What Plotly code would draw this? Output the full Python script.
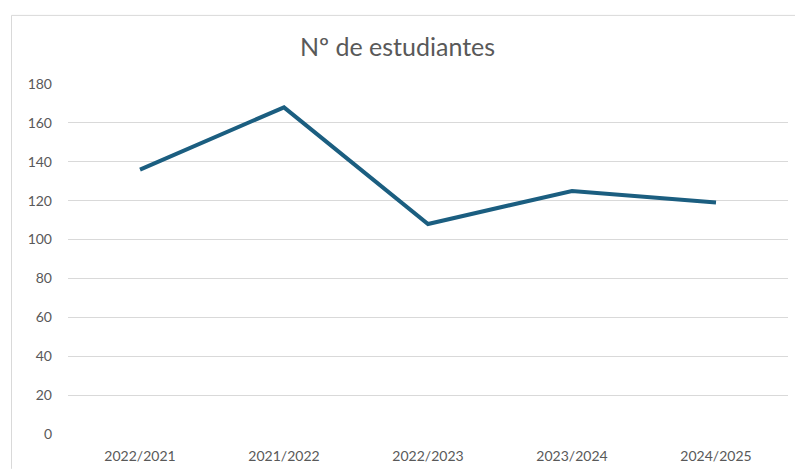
import plotly.graph_objects as go

categories = ["2022/2021", "2021/2022", "2022/2023", "2023/2024", "2024/2025"]
estudiantes = [136, 168, 108, 125, 119]
y_ticks = [0, 20, 40, 60, 80, 100, 120, 140, 160, 180]

W, H = 795, 471
L, R, T, B = 68, 7, 84, 35
pw = W - L - R
ph = H - T - B

def px_x(p):
    return (p - L) / pw

def px_y(p):
    return (H - B - p) / ph

fig = go.Figure()
fig.add_trace(go.Scatter(
    x=categories, y=estudiantes, mode="lines",
    line=dict(color="#1B5E80", width=4),
    hoverinfo="x+y",
))

border = dict(color="#D9D9D9", width=1)
fig.update_layout(
    width=W, height=H,
    margin=dict(l=L, r=R, t=T, b=B),
    paper_bgcolor="white", plot_bgcolor="white",
    showlegend=False,
    font=dict(family="Lato, Open Sans, sans-serif", color="#595959", size=14),
    title=dict(text="Nº de estudiantes", x=0.5, xanchor="center", y=1 - 47 / H, yanchor="middle",
               font=dict(size=25, color="#595959")),
    xaxis=dict(type="category", showgrid=False, showline=False, ticks="",
               tickfont=dict(size=14, color="#595959"), range=[-0.5, 4.5],
               ticklabelstandoff=12),
    yaxis=dict(range=[0, 180], tickvals=y_ticks, showgrid=True, gridcolor="#D9D9D9",
               gridwidth=1, zeroline=False, showline=False, ticks="",
               tickfont=dict(size=14, color="#595959"), ticklabelstandoff=15),
    shapes=[
        dict(type="line", xref="paper", yref="paper",
             x0=px_x(11.5), x1=px_x(11.5), y0=px_y(15), y1=px_y(H), line=border, layer="below"),
        dict(type="line", xref="paper", yref="paper",
             x0=px_x(11.5), x1=px_x(W), y0=px_y(15), y1=px_y(15), line=border, layer="below"),
    ],
)

fig.write_html("out.html", config={"displayModeBar": False},
               post_script="document.body.style.margin='0';document.body.style.overflow='hidden';")
